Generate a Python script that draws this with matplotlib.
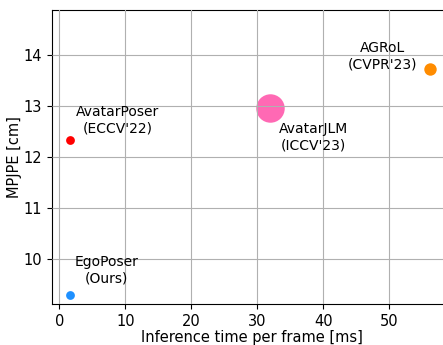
import matplotlib
matplotlib.use("Agg")
import matplotlib.pyplot as plt

methods = ["EgoPoser\n(Ours)", "AvatarPoser\n(ECCV'22)", "AvatarJLM\n(ICCV'23)", "AGRoL\n(CVPR'23)"]
times = [1.6, 1.6, 32.0, 56.1]
mpjpe = [9.28, 12.34, 12.96, 13.73]
sizes = [40, 40, 420, 80]
colors = ["#1e90ff", "#ff0000", "#ff69b4", "#ff8c00"]
label_pos = [(7.1, 9.78), (8.9, 12.72), (38.5, 12.39), (48.9, 13.98)]

fig = plt.figure(figsize=(4.43, 3.45), dpi=100)
ax = fig.add_axes([52/443, 41/345, 400/443, 294/345])
ax.set_axisbelow(False)
ax.grid(True, color="#b0b0b0", linewidth=0.8, zorder=3)
for t, m, s, c in zip(times, mpjpe, sizes, colors):
    ax.scatter(t, m, s=s, color=c, zorder=2, linewidths=0)
for lab, (lx, ly) in zip(methods, label_pos):
    ax.text(lx, ly, lab, ha="center", va="center", fontsize=10, multialignment="center", zorder=4)
ax.set_xlim(-1.1, 59.5)
ax.set_ylim(9.11, 14.89)
ax.set_xticks([0, 10, 20, 30, 40, 50])
ax.set_yticks([10, 11, 12, 13, 14])
ax.tick_params(labelsize=10.5)
ax.set_xlabel("Inference time per frame [ms]", fontsize=10.5, labelpad=1)
ax.set_ylabel("MPJPE [cm]", fontsize=10.5, labelpad=1)
fig.savefig("out.png", dpi=100)
